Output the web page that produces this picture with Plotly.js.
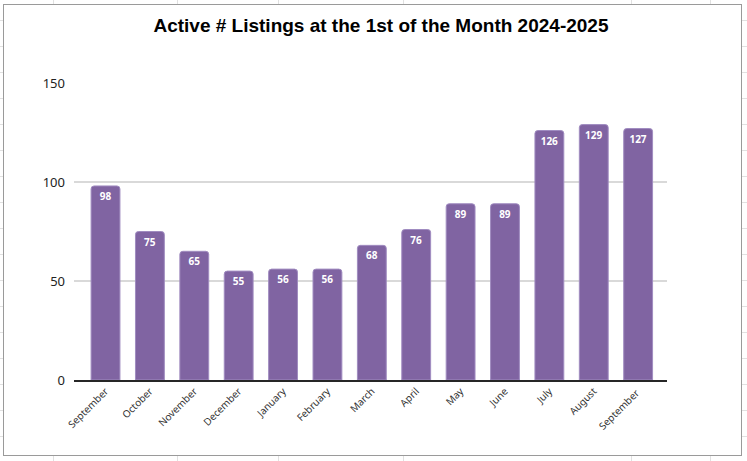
<!DOCTYPE html>
<html>
<head>
<meta charset="utf-8">
<script src="https://cdn.plot.ly/plotly-3.0.1.min.js"></script>
<style>
  html, body { margin: 0; padding: 0; background: #ffffff; }
  #wrap { position: relative; width: 747px; height: 461px; overflow: hidden; }
  .vl { position: absolute; top: 0; width: 1px; height: 461px; background: #e1e1e1; }
  .hl { position: absolute; left: 0; height: 1px; width: 747px; background: #e1e1e1; }
  #box { position: absolute; left: 3px; top: 4px; width: 737px; height: 450px; border: 1.5px solid #9a9a9a; background: #ffffff; }
  #chart { position: absolute; left: 0; top: 0; width: 747px; height: 461px; }
</style>
</head>
<body>
<div id="wrap">
  <div class="vl" style="left:53px"></div>
  <div class="vl" style="left:177px"></div>
  <div class="vl" style="left:278px"></div>
  <div class="vl" style="left:403px"></div>
  <div class="vl" style="left:631px"></div>
  <div class="vl" style="left:710px"></div>
  <div class="hl" style="top:20px"></div>
  <div class="hl" style="top:46px"></div>
  <div class="hl" style="top:72px"></div>
  <div class="hl" style="top:98px"></div>
  <div class="hl" style="top:124px"></div>
  <div class="hl" style="top:150px"></div>
  <div class="hl" style="top:176px"></div>
  <div class="hl" style="top:202px"></div>
  <div class="hl" style="top:228px"></div>
  <div class="hl" style="top:254px"></div>
  <div class="hl" style="top:280px"></div>
  <div class="hl" style="top:306px"></div>
  <div class="hl" style="top:332px"></div>
  <div class="hl" style="top:358px"></div>
  <div class="hl" style="top:384px"></div>
  <div class="hl" style="top:410px"></div>
  <div class="hl" style="top:436px"></div>
  <div id="box"></div>
  <div id="chart"></div>
</div>
<script>
const months = ["September", "October", "November", "December", "January", "February", "March", "April", "May", "June", "July", "August", "September "];
const listings = [98, 75, 65, 55, 56, 56, 68, 76, 89, 89, 126, 129, 127];
const yTicks = [0, 50, 100, 150];

const trace = {
  type: "bar",
  x: months,
  y: listings,
  text: listings.map(String),
  textposition: "inside",
  insidetextanchor: "end",
  textangle: 0,
  textfont: { family: "Noto Sans, sans-serif", size: 10, color: "#ffffff", weight: "bold" },
  marker: { color: "#8064a2", cornerradius: 3, line: { color: "#a08cc0", width: 1 } },
  cliponaxis: false,
  hoverinfo: "none"
};

const layout = {
  width: 747,
  height: 461,
  paper_bgcolor: "rgba(0,0,0,0)",
  plot_bgcolor: "rgba(0,0,0,0)",
  margin: { l: 74, r: 80, t: 83, b: 81, pad: 0 },
  bargap: 0.35,
  showlegend: false,
  title: {
    text: "<b>Active # Listings at the 1st of the Month 2024-2025</b>",
    font: { family: "Liberation Sans, Arial, sans-serif", size: 19, color: "#000000" },
    x: 0.51,
    xanchor: "center",
    y: 0.944,
    yanchor: "middle"
  },
  xaxis: {
    type: "category",
    range: [-0.71, 12.65],
    tickangle: -45,
    tickfont: { family: "Noto Sans, sans-serif", size: 10, color: "#333333" },
    showline: true,
    linecolor: "#262626",
    linewidth: 1.5,
    ticks: "",
    showgrid: false,
    fixedrange: true
  },
  yaxis: {
    range: [0, 150],
    tickvals: yTicks,
    ticktext: yTicks.map(String),
    tickfont: { family: "Noto Sans, sans-serif", size: 13, color: "#222222" },
    showgrid: true,
    gridcolor: "#d9d9d9",
    gridwidth: 1.5,
    zeroline: false,
    showline: false,
    ticks: "",
    ticklabelstandoff: 8,
    fixedrange: true
  }
};

Plotly.newPlot("chart", [trace], layout, { displayModeBar: false, staticPlot: true });
</script>
</body>
</html>
